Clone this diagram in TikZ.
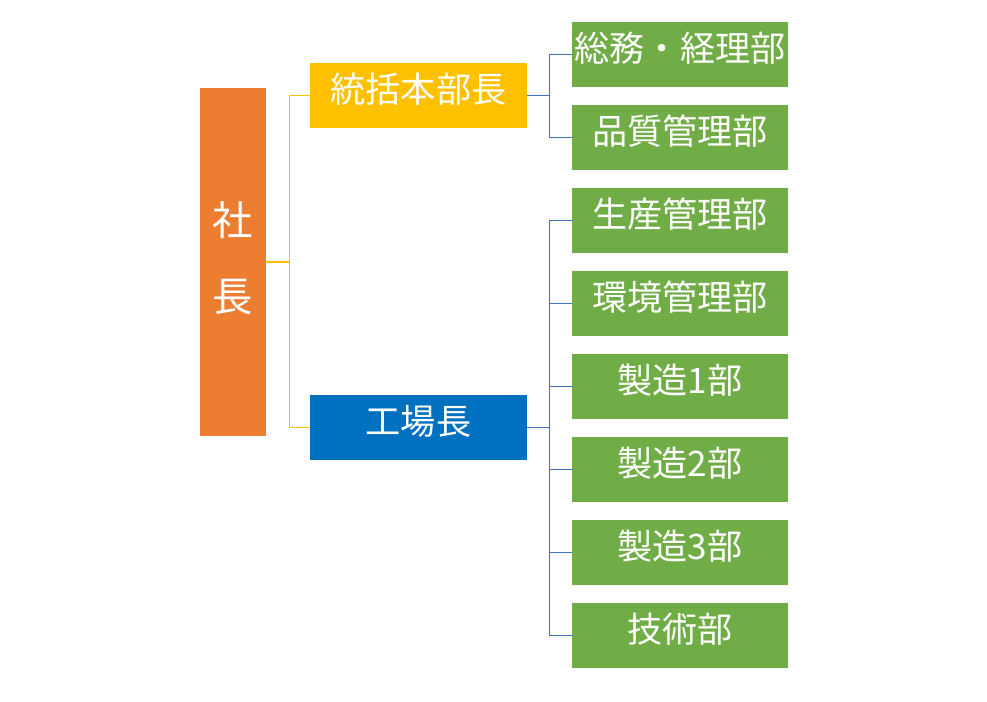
\documentclass[tikz,border=0pt]{standalone}
\usepackage{fontspec}
\setmainfont{Noto Sans CJK JP}
\usepackage{tikz}
\usetikzlibrary{positioning, calc}
\definecolor{presorange}{RGB}{237, 125, 49}
\definecolor{headyellow}{RGB}{255, 192, 0}
\definecolor{headblue}{RGB}{0, 112, 192}
\definecolor{deptgreen}{RGB}{112, 173, 71}
\definecolor{linkblue}{RGB}{68, 114, 196}
\tikzset{
  box/.style={text=white, inner sep=0pt, text depth=8.5pt, font=\fontsize{20}{22}\selectfont},
  deptbox/.style={box, fill=deptgreen, minimum width=216*0.02cm, minimum height=65*0.02cm},
  headbox/.style={box, minimum width=217*0.02cm, minimum height=65*0.02cm},
  ylink/.style={headyellow, line width=0.9pt},
  blink/.style={linkblue, line width=0.7pt}
}

\begin{document}
\begin{tikzpicture}[x=0.02cm, y=-0.02cm]
        \useasboundingbox (0,0) rectangle (987,701);
        % President
        \node[fill=presorange, text=white, inner sep=0pt, minimum width=66*0.02cm, minimum height=348*0.02cm,
          align=center, text depth=6pt, font=\fontsize{23}{43}\selectfont] (pres) at (233,262) {社\\長};
        % Heads
        \node[headbox, fill=headyellow] (gm) at (418.5,95.5) {統括本部長};
        \node[headbox, fill=headblue] (fm) at (418.5,427.5) {工場長};
        % Departments
        \foreach \n/\txt in {1/総務・経理部, 2/品質管理部, 3/生産管理部, 4/環境管理部,
            5/製造1部, 6/製造2部, 7/製造3部, 8/技術部}{
          \node[deptbox] (d\n) at (680,{54.5+83*(\n-1)}) {\txt};
        }
        % President to heads
        \draw[ylink] (pres.east) -- +(23,0) |- (gm.west);
        \draw[ylink] (pres.east) -- +(23,0) |- (fm.west);
        % Heads to departments
        \foreach \n in {1,2}{
          \draw[blink] (gm.east) -- +(22,0) |- (d\n.west);
        }
        \foreach \n in {3,...,8}{
          \draw[blink] (fm.east) -- +(22,0) |- (d\n.west);
        }
      \end{tikzpicture}
\end{document}
